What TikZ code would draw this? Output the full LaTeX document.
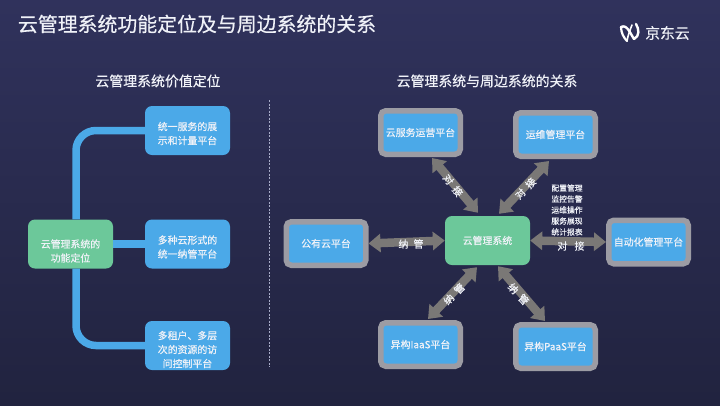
\documentclass[tikz,border=0pt]{standalone}
\usepackage{fontspec}
\setmainfont[FakeBold=0.45]{Noto Sans CJK SC}
\usetikzlibrary{arrows.meta,calc}
\definecolor{bgtop}{HTML}{30325C}
\definecolor{bgbot}{HTML}{21233F}
\definecolor{cblue}{HTML}{4BA9E8}
\definecolor{cgreen}{HTML}{6CC89A}
\definecolor{cgrey}{HTML}{9C9CA4}
\definecolor{carrow}{HTML}{7A7876}
\definecolor{ctext}{HTML}{F0F2F8}
\definecolor{cdiv}{HTML}{A8ACC8}
\newcommand{\lowertext}[2]{\raisebox{\dimexpr-#1pt-2.5pt\relax}[0pt][0pt]{\parbox[c]{80pt}{\centering #2}}}
\tikzset{
  x=1pt,y=-1pt,
  txt/.style={text=ctext,inner sep=0pt,align=center},
  bluebox/.style={txt,fill=cblue,rounded corners=7,minimum width=85,minimum height=49,font=\fontsize{9.9}{14}\selectfont},
  greenbox/.style={txt,fill=cgreen,rounded corners=7,minimum width=85,minimum height=49,font=\fontsize{9.9}{14}\selectfont},
  platform/.style={txt,fill=cblue,draw=cgrey,line width=5.5,rounded corners=5,minimum width=79.5,minimum height=43.5,font=\fontsize{9.9}{14}\selectfont},
  trunk/.style={draw=cblue,line width=7.5,rounded corners=20},
  link/.style={draw=carrow,line width=8.5,{Triangle[length=12,width=18]}-{Triangle[length=12,width=18]}},
  linklabel/.style={txt,font=\fontsize{10}{12}\selectfont},
  heading/.style={txt,font=\fontsize{13.9}{16}\selectfont},
}
\begin{document}
\begin{tikzpicture}
\useasboundingbox (0,0) rectangle (720,405);
\shade[top color=bgtop,bottom color=bgbot] (0,0) rectangle (720,405);
% titles
\node[txt,font=\fontsize{19.9}{24}\selectfont] (title) at (197,24) {云管理系统功能定位及与周边系统的关系};
\node[heading] (headl) at (158,81) {云管理系统价值定位};
\node[heading] (headr) at (487,81) {云管理系统与周边系统的关系};
% logo
\begin{scope}[draw=white,line cap=round,line join=round]
\draw[line width=2.4] (621,27) .. controls (627,24) and (630,33) .. (634,39);
\draw[line width=2.2] (621,27) .. controls (621,33) and (624,38) .. (627,41);
\draw[line width=1.6] (627,41) .. controls (628,35) and (630,30) .. (632,25);
\draw[line width=2.4] (634,39) .. controls (640,36) and (639,29) .. (636,24);
\end{scope}
\node[txt,font=\fontsize{14.8}{16}\selectfont] (brand) at (667.5,33) {京东云};
% divider
\coordinate (divtop) at (269.5,100);
\coordinate (divbot) at (269.5,367);
\draw[cdiv,line width=0.8,dash pattern=on 2 off 1.5] (divtop) -- (divbot);
% left tree
\node[greenbox] (root) at (70.5,244) {\lowertext{7}{云管理系统的\\功能定位}};
\node[bluebox] (b1) at (187.5,130.5) {\lowertext{3}{统一服务的展\\示和计量平台}};
\node[bluebox] (b2) at (187.5,244) {\lowertext{3}{多种云形式的\\统一纳管平台}};
\node[bluebox] (b3) at (187.5,345.5) {\lowertext{4}{多租户、多层\\次的资源的访\\问控制平台}};
\draw[trunk] ($(root.north)+(5.5,0)$) |- (b1.west);
\draw[trunk] ($(root.south)+(5.5,0)$) |- (b3.west);
\draw[draw=cblue,line width=7.5] (root.east) -- (b2.west);
% right graph
\node[greenbox] (sys) at (487.5,240.5) {云管理系统};
\node[platform] (ops) at (420.5,132.5) {云服务运营平台};
\node[platform] (maint) at (555.5,134.5) {运维管理平台};
\node[platform] (pub) at (326,243.5) {公有云平台};
\node[platform] (auto) at (648.5,242) {自动化管理平台};
\node[platform] (iaas) at (420.5,344.5) {异构IaaS平台};
\node[platform] (paas) at (555.5,346.5) {异构PaaS平台};
\draw[link] ($(sys.north)+(-9.5,-3)$) -- ($(ops.south)+(11.5,1)$);
\draw[link] ($(sys.north)+(11.5,-2)$) -- ($(maint.south)+(-6.5,2)$);
\draw[link] (sys.west) -- (pub.east);
\draw[link] (sys.east) -- (auto.west);
\draw[link] ($(sys.south)+(-10.5,2)$) -- ($(iaas.north)+(7.5,-1)$);
\draw[link] ($(sys.south)+(10.5,1)$) -- ($(paas.north)+(-10.5,-1)$);
\node[linklabel,rotate=-52] (l1) at (453,185.5) {对\hspace{5pt}接};
\node[linklabel,rotate=46] (l2) at (525.5,188.5) {对\hspace{5pt}接};
\node[linklabel] (l3) at (411,244) {纳\hspace{5pt}管};
\node[linklabel] (l4) at (571,246) {对\hspace{7pt}接};
\node[linklabel,rotate=45] (l5) at (454,294) {纳\hspace{5pt}管};
\node[linklabel,rotate=-47] (l6) at (518.5,294) {纳\hspace{5pt}管};
\node[txt,font=\fontsize{7.8}{11}\selectfont] (funcs) at (567,210) {配置管理\\监控告警\\运维操作\\服务展现\\统计报表};
\end{tikzpicture}
\end{document}
